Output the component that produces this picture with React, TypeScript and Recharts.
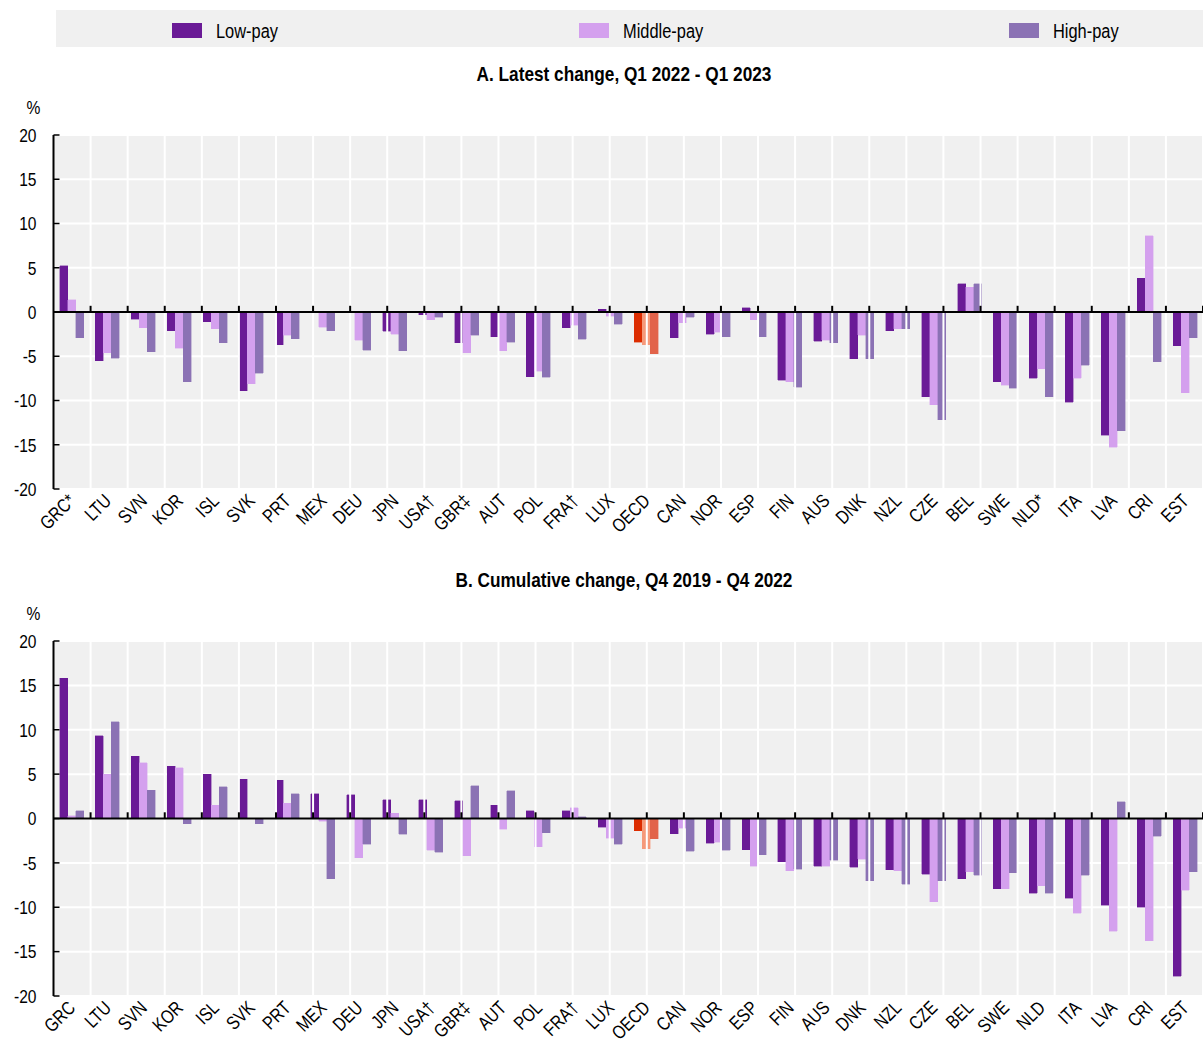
import React from 'react';
import { BarChart, Bar, XAxis, YAxis, CartesianGrid, ReferenceLine, Cell } from 'recharts';

// Country order (panel A has the footnote markers)
const catsA = ['GRC*', 'LTU', 'SVN', 'KOR', 'ISL', 'SVK', 'PRT', 'MEX', 'DEU', 'JPN', 'USA†', 'GBR‡', 'AUT', 'POL', 'FRA†', 'LUX', 'OECD', 'CAN', 'NOR', 'ESP', 'FIN', 'AUS', 'DNK', 'NZL', 'CZE', 'BEL', 'SWE', 'NLD*', 'ITA', 'LVA', 'CRI', 'EST'];
const catsB = ['GRC', 'LTU', 'SVN', 'KOR', 'ISL', 'SVK', 'PRT', 'MEX', 'DEU', 'JPN', 'USA†', 'GBR‡', 'AUT', 'POL', 'FRA†', 'LUX', 'OECD', 'CAN', 'NOR', 'ESP', 'FIN', 'AUS', 'DNK', 'NZL', 'CZE', 'BEL', 'SWE', 'NLD', 'ITA', 'LVA', 'CRI', 'EST'];

// A. Latest change, Q1 2022 - Q1 2023
const lowA = [5.2, -5.5, -0.8, -2.1, -1.1, -8.9, -3.7, 0, 0, -2.2, -0.3, -3.5, -2.8, -7.3, -1.8, 0.3, -3.4, -2.9, -2.5, 0.5, -7.7, -3.3, -5.3, -2.1, -9.6, 3.2, -7.9, -7.5, -10.2, -13.9, 3.8, -3.8];
const midA = [1.4, -4.6, -1.8, -4.1, -1.9, -8.1, -2.6, -1.7, -3.2, -2.5, -0.9, -4.6, -4.4, -6.7, -1.5, -0.5, -3.7, -1.2, -2.3, -0.9, -7.9, -3.2, -2.6, -1.9, -10.5, 2.8, -8.3, -6.4, -7.5, -15.3, 8.6, -9.1];
const highA = [-2.9, -5.2, -4.5, -7.9, -3.5, -6.9, -3.0, -2.1, -4.3, -4.4, -0.6, -2.6, -3.4, -7.4, -3.1, -1.4, -4.7, -0.6, -2.8, -2.8, -8.5, -3.5, -5.3, -1.9, -12.2, 3.2, -8.6, -9.6, -6.0, -13.4, -5.6, -2.9];

// B. Cumulative change, Q4 2019 - Q4 2022
const lowB = [15.8, 9.3, 7.0, 5.9, 5.0, 4.4, 4.3, 2.8, 2.7, 2.1, 2.1, 2.0, 1.5, 0.9, 0.9, -1.0, -1.4, -1.7, -2.8, -3.5, -4.9, -5.4, -5.5, -5.8, -6.3, -6.8, -7.9, -8.4, -9.0, -9.8, -10.0, -17.8];
const midB = [0.3, 5.0, 6.3, 5.7, 1.5, 0, 1.7, -0.3, -4.4, 0.6, -3.6, -4.2, -1.2, -3.2, 1.2, -2.2, -3.4, -1.1, -2.7, -5.4, -5.9, -5.4, -4.6, -5.9, -9.4, -6.0, -7.9, -7.6, -10.7, -12.7, -13.8, -8.1];
const highB = [0.9, 10.9, 3.2, -0.6, 3.6, -0.6, 2.8, -6.8, -2.9, -1.8, -3.8, 3.7, 3.1, -1.6, 0.2, -2.9, -2.3, -3.7, -3.6, -4.1, -5.7, -4.7, -7.0, -7.4, -7.0, -6.4, -6.1, -8.4, -6.4, 1.9, -2.0, -6.0];

const yTicks = [-20, -15, -10, -5, 0, 5, 10, 15, 20];
const seriesKeys = ['low', 'mid', 'high'];
const seriesNames = ['Low-pay', 'Middle-pay', 'High-pay'];
const colors = ['#6A1A96', '#D4A0EE', '#8B72B4'];
const oecdColors = ['#DC2C00', '#F5997A', '#E2634A'];

// no narrow font installed, so squeeze a regular sans horizontally
const FONT = "'Liberation Sans', Arial, sans-serif";
const NARROW = 0.82;
const legendX = [172, 579, 1009];

function YTick(props: any) {
  const { x, y, payload } = props;
  return (
    <g>
      <text
        transform={`translate(${x} ${y}) scale(${NARROW} 1)`}
        dy="0.36em"
        textAnchor="end"
        fontSize={19}
        fill="#000"
        fontFamily={FONT}
      >
        {payload.value}
      </text>
      <line x1={x + 17} x2={x + 23} y1={y} y2={y} stroke="#000" strokeWidth={1.5} />
    </g>
  );
}

function XTick(props: any) {
  const { x, y, payload } = props;
  return (
    <text
      transform={`translate(${x + 5} ${y}) rotate(-45) scale(${NARROW} 1)`}
      textAnchor="end"
      fontSize={19}
      fill="#000"
      fontFamily={FONT}
    >
      {payload.value}
    </text>
  );
}

function Panel({ cats, low, mid, high, top, height, xh }: any) {
  const data = cats.map((c: string, i: number) => ({ name: c, low: low[i], mid: mid[i], high: high[i] }));
  const n = cats.length;
  const edges = Array.from({ length: n - 1 }, (_, i) => i + 1);
  return (
    <div style={{ position: 'absolute', left: 0, top }}>
      <BarChart
        width={1203}
        height={height}
        data={data}
        margin={{ top: 10, right: 0, left: 0, bottom: 0 }}
        barSize={8}
        barGap={0}
      >
        <CartesianGrid vertical={false} fill="#F0F0F0" stroke="#FFFFFF" strokeWidth={2} />
        <XAxis
          dataKey="name"
          interval={0}
          tickLine={false}
          axisLine={false}
          tickSize={0}
          tickMargin={13}
          height={xh}
          tick={(p: any) => <XTick {...p} />}
        />
        <XAxis xAxisId="edge" type="number" domain={[0, n]} hide allowDataOverflow />
        <YAxis
          domain={[-20, 20]}
          ticks={yTicks}
          interval={0}
          width={53.5}
          tickSize={0}
          tickMargin={17}
          tickLine={false}
          axisLine={{ stroke: '#000', strokeWidth: 2 }}
          tick={(p: any) => <YTick {...p} />}
        />
        {edges.map((e) => (
          <ReferenceLine key={'g' + e} xAxisId="edge" x={e} stroke="#FFFFFF" strokeWidth={2} />
        ))}
        {seriesKeys.map((k, s) => (
          <Bar key={k} dataKey={k} name={seriesNames[s]} fill={colors[s]} isAnimationActive={false}>
            {data.map((d: any, i: number) => {
              const c = d.name === 'OECD' ? oecdColors[s] : colors[s];
              return <Cell key={i} fill={c} stroke={c} strokeWidth={0.4} shapeRendering="crispEdges" />;
            })}
          </Bar>
        ))}
        <ReferenceLine y={0} stroke="#000" strokeWidth={2} />
        {edges.map((e) => (
          <ReferenceLine
            key={'t' + e}
            xAxisId="edge"
            segment={[{ x: e, y: 0 }, { x: e, y: 0.7 }]}
            stroke="#000"
            strokeWidth={2}
          />
        ))}
      </BarChart>
    </div>
  );
}

const titleStyle: React.CSSProperties = {
  position: 'absolute',
  left: 624,
  transform: `translateX(-50%) scaleX(${NARROW})`,
  fontSize: 21,
  fontWeight: 'bold',
  whiteSpace: 'nowrap',
  lineHeight: '24px',
};

export default function App() {
  return (
    <div
      style={{
        position: 'absolute',
        left: 0,
        top: 0,
        width: 1203,
        height: 1041,
        overflow: 'hidden',
        background: '#fff',
        fontFamily: FONT,
        color: '#000',
      }}
    >
      {/* Legend */}
      <div style={{ position: 'absolute', left: 56, top: 10, width: 1147, height: 37, background: '#F0F0F0' }} />
      {seriesNames.map((name, i) => (
        <React.Fragment key={name}>
          <div
            style={{ position: 'absolute', left: legendX[i], top: 23, width: 30, height: 15, background: colors[i] }}
          />
          <div
            style={{
              position: 'absolute',
              left: legendX[i] + 44,
              top: 19,
              fontSize: 20,
              lineHeight: '24px',
              transform: `scaleX(${NARROW})`,
              transformOrigin: 'left center',
              whiteSpace: 'nowrap',
            }}
          >
            {name}
          </div>
        </React.Fragment>
      ))}

      {/* Panel A */}
      <div style={{ ...titleStyle, top: 62 }}>A. Latest change, Q1 2022 - Q1 2023</div>
      <div style={{ position: 'absolute', left: 25, top: 97, fontSize: 19, lineHeight: '22px', transform: `scaleX(${NARROW})` }}>%</div>
      <Panel cats={catsA} low={lowA} mid={midA} high={highA} top={125} height={419} xh={55} />

      {/* Panel B */}
      <div style={{ ...titleStyle, top: 568 }}>B. Cumulative change, Q4 2019 - Q4 2022</div>
      <div style={{ position: 'absolute', left: 25, top: 603, fontSize: 19, lineHeight: '22px', transform: `scaleX(${NARROW})` }}>%</div>
      <Panel cats={catsB} low={lowB} mid={midB} high={highB} top={631} height={410} xh={45} />
    </div>
  );
}
